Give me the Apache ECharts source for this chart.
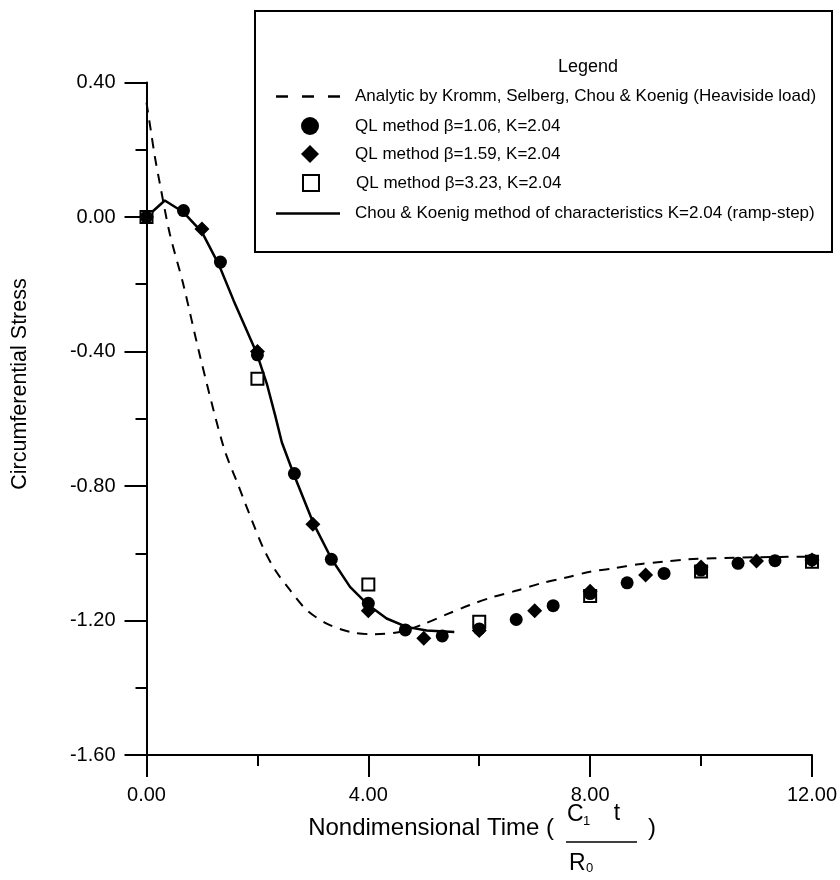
<!DOCTYPE html>
<html>
<head>
<meta charset="utf-8">
<script src="https://cdn.jsdelivr.net/npm/echarts@6/dist/echarts.min.js"></script>
<style>html,body{margin:0;padding:0;background:#fff}#c{width:840px;height:880px}</style>
</head>
<body>
<div id="c"></div>
<script>
// ---- Data ----
const analyticX = [0, 0.08, 0.15, 0.24, 0.42, 0.66, 0.97, 1.39, 1.66, 1.9, 2.11, 2.32, 2.59, 2.89, 3.25, 3.67, 4.09, 4.57, 4.99, 5.41, 5.83, 6.25, 6.68, 7.1, 7.55, 8.0, 8.42, 8.87, 9.32, 9.77, 10.22, 11.0, 12.0];
const analyticY = [0.34, 0.255, 0.18, 0.10, -0.05, -0.198, -0.417, -0.684, -0.80, -0.902, -0.986, -1.05, -1.11, -1.169, -1.209, -1.234, -1.241, -1.234, -1.211, -1.182, -1.154, -1.13, -1.111, -1.09, -1.073, -1.055, -1.045, -1.033, -1.025, -1.018, -1.015, -1.012, -1.01];

const chouX = [0, 0.33, 0.66, 1.0, 1.3, 1.57, 1.99, 2.17, 2.32, 2.44, 2.65, 3.01, 3.34, 3.67, 4.0, 4.33, 4.69, 5.05, 5.55];
const chouY = [0, 0.049, 0.015, -0.045, -0.14, -0.248, -0.406, -0.496, -0.59, -0.67, -0.763, -0.911, -1.018, -1.10, -1.154, -1.194, -1.219, -1.23, -1.234];

const ql106X = [0, 0.667, 1.333, 2.0, 2.667, 3.333, 4.0, 4.667, 5.333, 6.0, 6.667, 7.333, 8.0, 8.667, 9.333, 10.0, 10.667, 11.333, 12.0];
const ql106Y = [0, 0.019, -0.134, -0.41, -0.763, -1.018, -1.149, -1.228, -1.246, -1.225, -1.197, -1.156, -1.12, -1.088, -1.06, -1.05, -1.03, -1.022, -1.02];

const ql159X = [0, 1, 2, 3, 4, 5, 6, 7, 8, 9, 10, 11, 12];
const ql159Y = [0, -0.036, -0.40, -0.914, -1.171, -1.253, -1.23, -1.171, -1.113, -1.065, -1.041, -1.023, -1.02];

const ql323X = [0, 2, 4, 6, 8, 10, 12];
const ql323Y = [0, -0.481, -1.093, -1.204, -1.127, -1.054, -1.025];

const seriesNames = [
  'Analytic by Kromm, Selberg, Chou & Koenig (Heaviside load)',
  'QL method \u03b2=1.06, K=2.04',
  'QL method \u03b2=1.59, K=2.04',
  'QL method \u03b2=3.23, K=2.04',
  'Chou & Koenig method of characteristics K=2.04 (ramp-step)'
];
const xTitle = 'Nondimensional Time (';
const yTitle = 'Circumferential Stress';
const legendTitle = 'Legend';

// ---- Build ----
const zip = (xs, ys) => xs.map((x, i) => [x, ys[i]]);
const FONT = "'Liberation Sans', Arial, sans-serif";
const chart = echarts.init(document.getElementById('c'), null, {renderer: 'canvas'});
const axisCommon = {
  axisLine: {show: true, onZero: false, lineStyle: {color: '#000', width: 2}},
  axisTick: {show: true, inside: false, length: 22, lineStyle: {color: '#000', width: 2}},
  minorTick: {show: true, splitNumber: 2, length: 11, lineStyle: {color: '#000', width: 2}},
  splitLine: {show: false},
  axisLabel: {color: '#000', fontFamily: FONT, fontSize: 20, formatter: v => v.toFixed(2)}
};
const legText = pad => ({color: '#000', fontFamily: FONT, fontSize: 17, padding: [0, 0, 0, pad]});
const rowY = [97, 126, 154, 183, 214];
const mkLegend = (i, icon, w, h, left, pad) => ({
  orient: 'vertical', left: left, top: rowY[i] - 9, padding: 0,
  itemWidth: w, itemHeight: h, selectedMode: false,
  textStyle: legText(pad), data: [{name: seriesNames[i], icon: icon}]
});
chart.setOption({
  animation: false,
  backgroundColor: '#fff',
  grid: {left: 146.5, right: 28, top: 82.5, bottom: 125, containLabel: false},
  xAxis: Object.assign({}, axisCommon, {
    type: 'value', min: 0, max: 12, interval: 4,
    axisLabel: Object.assign({}, axisCommon.axisLabel, {margin: 30})
  }),
  yAxis: Object.assign({}, axisCommon, {
    type: 'value', min: -1.6, max: 0.4, interval: 0.4,
    axisLabel: Object.assign({}, axisCommon.axisLabel, {margin: 31})
  }),
  legend: [
    mkLegend(0, 'path://M0,0h12v2.5H0z M26,0h12v2.5H26z M52,0h12v2.5H52z', 64, 2.5, 276, 10),
    mkLegend(1, 'circle', 18, 18, 301, 31),
    mkLegend(2, 'diamond', 18, 18, 301, 31),
    mkLegend(3, 'rect', 16, 16, 302, 32),
    mkLegend(4, 'path://M0,0h64v2.5H0z', 64, 2.5, 276, 10)
  ],
  graphic: [
    {type: 'rect', shape: {x: 255, y: 11, width: 577, height: 241}, style: {fill: 'none', stroke: '#000', lineWidth: 2}, z: 10},
    {type: 'text', x: 588, y: 67, style: {text: legendTitle, font: "18px " + FONT, fill: '#000', textAlign: 'center', textVerticalAlign: 'middle'}},
    {type: 'text', x: 20, y: 384, rotation: Math.PI / 2, style: {text: yTitle, font: "21.5px " + FONT, fill: '#000', textAlign: 'center', textVerticalAlign: 'middle'}},
    {type: 'text', x: 554, y: 828, style: {text: xTitle, font: "24px " + FONT, fill: '#000', textAlign: 'right', textVerticalAlign: 'middle'}},
    {type: 'text', x: 567, y: 815, style: {text: 'C', font: "23px " + FONT, fill: '#000', textAlign: 'left', textVerticalAlign: 'middle'}},
    {type: 'text', x: 583, y: 821, style: {text: '1', font: "13px " + FONT, fill: '#000', textAlign: 'left', textVerticalAlign: 'middle'}},
    {type: 'text', x: 617, y: 814, style: {text: 't', font: "23px " + FONT, fill: '#000', textAlign: 'center', textVerticalAlign: 'middle'}},
    {type: 'line', shape: {x1: 566, y1: 842, x2: 637, y2: 842}, style: {stroke: '#000', lineWidth: 1.5}},
    {type: 'text', x: 569, y: 864, style: {text: 'R', font: "23px " + FONT, fill: '#000', textAlign: 'left', textVerticalAlign: 'middle'}},
    {type: 'text', x: 586, y: 868, style: {text: '0', font: "13px " + FONT, fill: '#000', textAlign: 'left', textVerticalAlign: 'middle'}},
    {type: 'text', x: 652, y: 828, style: {text: ')', font: "24px " + FONT, fill: '#000', textAlign: 'center', textVerticalAlign: 'middle'}}
  ],
  series: [
    {name: seriesNames[0], type: 'line', data: zip(analyticX, analyticY), symbol: 'none', smooth: 0.3,
     lineStyle: {color: '#000', width: 2, type: [10, 8]}, itemStyle: {color: '#000'}, z: 2},
    {name: seriesNames[1], type: 'scatter', data: zip(ql106X, ql106Y), symbol: 'circle', symbolSize: 13,
     itemStyle: {color: '#000', opacity: 1}, z: 5},
    {name: seriesNames[2], type: 'scatter', data: zip(ql159X, ql159Y), symbol: 'diamond', symbolSize: 15,
     itemStyle: {color: '#000', opacity: 1}, z: 5},
    {name: seriesNames[3], type: 'scatter', data: zip(ql323X, ql323Y), symbol: 'rect', symbolSize: 12,
     itemStyle: {color: '#fff', borderColor: '#000', borderWidth: 2, opacity: 1}, z: 4},
    {name: seriesNames[4], type: 'line', data: zip(chouX, chouY), symbol: 'none', smooth: false,
     lineStyle: {color: '#000', width: 2.5}, itemStyle: {color: '#000'}, z: 3}
  ]
});
</script>
</body>
</html>
